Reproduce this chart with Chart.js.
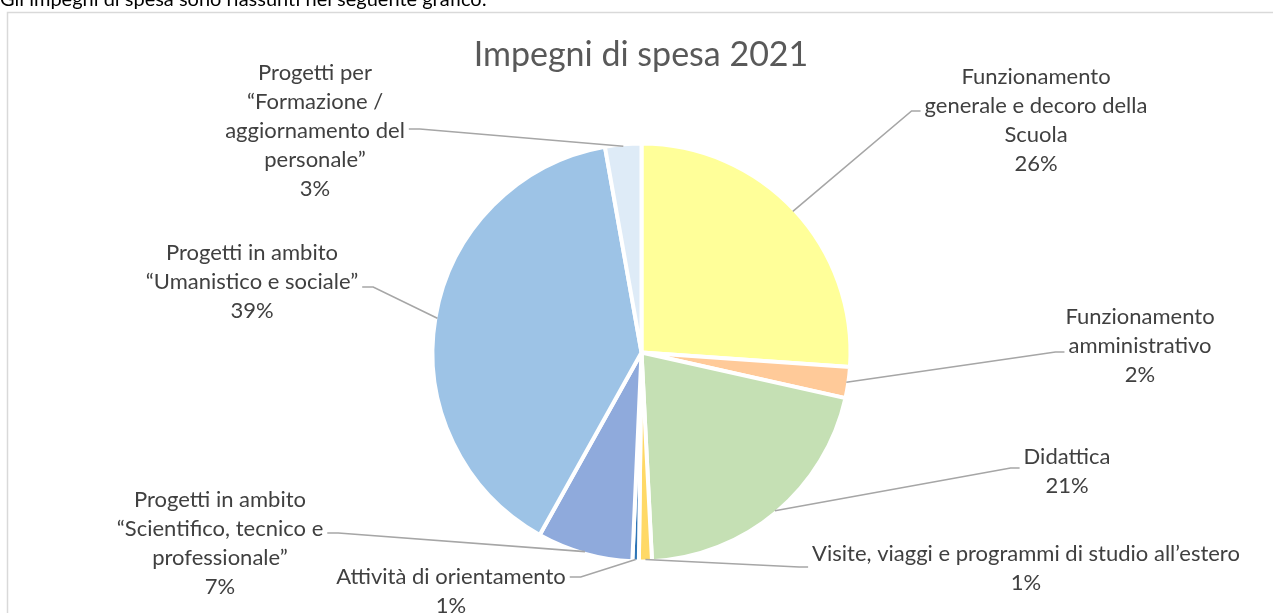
<!DOCTYPE html>
<html>
<head>
<meta charset="utf-8">
<script src="https://cdn.jsdelivr.net/npm/chart.js@4"></script>
<style>
    html, body { margin: 0; padding: 0; background: #fff; overflow: hidden; }
    #box { position: absolute; left: 0; top: 0; width: 1273px; height: 613px; }
</style>
</head>
<body>
<div id="box"><canvas id="grafico" width="1273" height="613"></canvas></div>
<script>
// dati del grafico
const categorie = [
    'Funzionamento generale e decoro della Scuola',
    'Funzionamento amministrativo',
    'Didattica',
    'Visite, viaggi e programmi di studio all’estero',
    'Attività di orientamento',
    'Progetti in ambito “Scientifico, tecnico e professionale”',
    'Progetti in ambito “Umanistico e sociale”',
    'Progetti per “Formazione / aggiornamento del personale”'
]
const valori = [26.1, 2.4, 20.7, 1.0, 0.5, 7.4, 39.1, 2.8]
const righeEtichette = [
    ['Funzionamento', 'generale e decoro della', 'Scuola'],
    ['Funzionamento', 'amministrativo'],
    ['Didattica'],
    ['Visite, viaggi e programmi di studio all’estero'],
    ['Attività di orientamento'],
    ['Progetti in ambito', '“Scientifico, tecnico e', 'professionale”'],
    ['Progetti in ambito', '“Umanistico e sociale”'],
    ['Progetti per', '“Formazione /', 'aggiornamento del', 'personale”']
]
const titolo = 'Impegni di spesa 2021'
const intro = 'Gli impegni di spesa sono riassunti nel seguente grafico:'

const colori = ['#FFFF99', '#FFCA99', '#C5E0B4', '#FFD966', '#2E75B6', '#8FAADC', '#9DC3E6', '#DEEBF7']

// posizione delle etichette: centro del testo, prima riga, riga e lato a cui si aggancia la linea guida
const posEtichette = [
    { cx: 1036, y0: 77, riga: 1, lato: 'sx', dy: 5 },
    { cx: 1140, y0: 317, riga: 1, lato: 'sx', dy: 6 },
    { cx: 1067, y0: 457, riga: 0, lato: 'sx', dy: 11 },
    { cx: 1026, y0: 554, riga: 0, lato: 'sx', dy: 13 },
    { cx: 451, y0: 577, riga: 0, lato: 'dx', dy: 0 },
    { cx: 220, y0: 500, riga: 1, lato: 'dx', dy: 4 },
    { cx: 252, y0: 253, riga: 1, lato: 'dx', dy: 5 },
    { cx: 315, y0: 73, riga: 2, lato: 'dx', dy: -2 }
]
const interlinea = 29
const font = 'Lato, "Open Sans", sans-serif'

const totale = valori.reduce((a, b) => a + b, 0)
const percentuali = valori.map((v) => Math.round(v / totale * 100) + '%')

const etichettePlugin = {
    id: 'etichette',
    afterDraw(chart) {
        const ctx = chart.ctx
        const arcs = chart.getDatasetMeta(0).data
        ctx.save()

        // cornice e testo del documento
        ctx.strokeStyle = '#D9D9D9'
        ctx.lineWidth = 1.5
        ctx.beginPath()
        ctx.moveTo(7.5, 640)
        ctx.lineTo(7.5, 12.5)
        ctx.lineTo(1300, 12.5)
        ctx.stroke()
        ctx.fillStyle = '#000'
        ctx.font = '20px ' + font
        ctx.textAlign = 'left'
        ctx.textBaseline = 'alphabetic'
        ctx.fillText(intro, 0, 6)

        // titolo
        ctx.fillStyle = '#595959'
        ctx.font = '34px ' + font
        ctx.textAlign = 'center'
        ctx.textBaseline = 'middle'
        ctx.fillText(titolo, 641, 55)

        // linee guida, agganciate al bordo del testo
        ctx.font = '22px ' + font
        ctx.strokeStyle = '#A6A6A6'
        ctx.lineWidth = 1.6
        arcs.forEach((arc, i) => {
            const p = arc.getProps(['x', 'y', 'startAngle', 'endAngle', 'outerRadius'], true)
            const mid = (p.startAngle + p.endAngle) / 2
            const r = p.outerRadius - 2
            const pos = posEtichette[i]
            const w = ctx.measureText(righeEtichette[i][pos.riga]).width
            const yy = pos.y0 + pos.riga * interlinea + pos.dy
            const fineX = pos.lato === 'sx' ? pos.cx - w / 2 - 4 : pos.cx + w / 2 + 4
            const gomitoX = pos.lato === 'sx' ? fineX - 9 : fineX + 11
            ctx.beginPath()
            ctx.moveTo(p.x + Math.cos(mid) * r, p.y + Math.sin(mid) * r)
            ctx.lineTo(gomitoX, yy)
            ctx.lineTo(fineX, yy)
            ctx.stroke()
        })

        // testi
        ctx.fillStyle = '#404040'
        righeEtichette.forEach((righe, i) => {
            const pos = posEtichette[i]
            const tutte = righe.concat([percentuali[i]])
            tutte.forEach((t, k) => {
                ctx.fillText(t, pos.cx, pos.y0 + k * interlinea)
            })
        })
        ctx.restore()
    }
}

const chart = new Chart(document.querySelector('#grafico'), {
    type: 'pie',
    data: {
        labels: categorie,
        datasets: [{
            data: valori,
            backgroundColor: colori,
            borderColor: '#ffffff',
            borderWidth: 4
        }]
    },
    options: {
        responsive: false,
        animation: false,
        layout: { padding: { top: 141.5, bottom: 49.5, left: 10, right: 0 } },
        plugins: {
            legend: { display: false },
            tooltip: { enabled: false }
        }
    },
    plugins: [etichettePlugin]
})
</script>
</body>
</html>
